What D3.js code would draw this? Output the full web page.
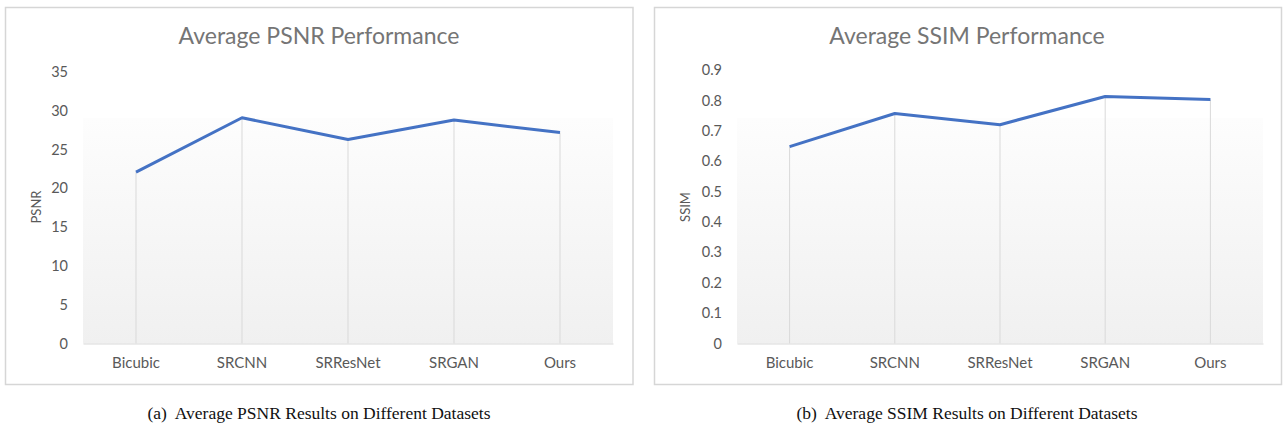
<!DOCTYPE html>
<html><head><meta charset="utf-8">
<script src="https://cdn.jsdelivr.net/npm/d3@7"></script>
<style>
html,body{margin:0;padding:0;background:#fff;}
svg{display:block;}
</style></head>
<body>
<svg id="c" width="1284" height="428"></svg>
<script>
const categories = ["Bicubic","SRCNN","SRResNet","SRGAN","Ours"];
const psnrValues = [22.1, 29.1, 26.3, 28.8, 27.2];
const ssimValues = [0.648, 0.757, 0.720, 0.813, 0.803];
const psnrTicks = [0,5,10,15,20,25,30,35];
const ssimTicks = [0,0.1,0.2,0.3,0.4,0.5,0.6,0.7,0.8,0.9];

const svg = d3.select("#c");
const defs = svg.append("defs");
const grad = defs.append("linearGradient").attr("id","bg").attr("x1",0).attr("y1",0).attr("x2",0).attr("y2",1);
grad.append("stop").attr("offset","0%").attr("stop-color","#fdfdfd");
grad.append("stop").attr("offset","100%").attr("stop-color","#f0f0f0");

const font = "Lato, 'Open Sans', sans-serif";
const base = 343.5;

function panel(cfg){
  const g = svg.append("g");
  g.append("rect").attr("x",cfg.bx).attr("y",7.5).attr("width",cfg.bw).attr("height",377)
    .attr("fill","#fff").attr("stroke","#d6d6d6").attr("stroke-width",1.5);
  const x = d3.scaleBand().domain(categories).range([cfg.x0,cfg.x1]);
  const y = d3.scaleLinear().domain([0,cfg.max]).range([base,cfg.top]);
  // gradient area
  g.append("rect").attr("x",cfg.x0).attr("y",118).attr("width",cfg.x1-cfg.x0).attr("height",base-118)
    .attr("fill","url(#bg)");
  // vertical grid from point down to baseline
  g.selectAll("line.vgl").data(categories).join("line").attr("class","vgl")
    .attr("x1",d=>x(d)+x.bandwidth()/2).attr("x2",d=>x(d)+x.bandwidth()/2)
    .attr("y1",(d,i)=>y(cfg.vals[i])).attr("y2",base)
    .attr("stroke","#d9d9d9").attr("stroke-width",1);
  // x axis
  const xa = g.append("g").attr("transform",`translate(0,${base})`).call(d3.axisBottom(x).tickSize(0).tickPadding(14));
  xa.select(".domain").attr("stroke","#d9d9d9").attr("stroke-width",1.2);
  xa.selectAll("text").attr("font-family",font).attr("font-size",15).attr("fill","#595959");
  // y axis
  const ya = g.append("g").attr("transform",`translate(${cfg.x0},0)`)
    .call(d3.axisLeft(y).tickValues(cfg.ticks).tickSize(0).tickPadding(cfg.tp).tickFormat(cfg.fmt));
  ya.select(".domain").remove();
  ya.selectAll("text").attr("font-family",font).attr("font-size",14.5).attr("fill","#595959");
  // y title
  g.append("text").attr("transform",`translate(${cfg.yt},207) rotate(-90)`).attr("text-anchor","middle")
    .attr("font-family",font).attr("font-size",13).attr("fill","#595959").text(cfg.ytitle);
  // title
  g.append("text").attr("x",cfg.tx).attr("y",44).attr("text-anchor","middle")
    .attr("font-family",font).attr("font-size",23).attr("fill","#757575").text(cfg.title);
  // line
  const line = d3.line().x((d,i)=>x(categories[i])+x.bandwidth()/2).y(d=>y(d));
  g.append("path").datum(cfg.vals).attr("d",line).attr("fill","none")
    .attr("stroke","#4472c4").attr("stroke-width",3).attr("stroke-linejoin","round");
  // caption
  g.append("text").attr("x",cfg.cx).attr("y",419).attr("text-anchor","middle")
    .attr("font-family","'Liberation Serif', serif").attr("font-size",17.5).attr("fill","#111")
    .attr("xml:space","preserve").text(cfg.caption);
}

panel({bx:5.5,bw:627.5,x0:83,x1:613,top:72,max:35,vals:psnrValues,ticks:psnrTicks,fmt:d3.format("d"),tp:15,yt:41,ytitle:"PSNR",
  title:"Average PSNR Performance",tx:319,cx:319,caption:"(a)  Average PSNR Results on Different Datasets"});
panel({bx:654.5,bw:627,x0:737,x1:1263,top:70,max:0.9,vals:ssimValues,ticks:ssimTicks,fmt:d=>d===0?"0":d3.format(".1f")(d),tp:15,yt:690,ytitle:"SSIM",
  title:"Average SSIM Performance",tx:967,cx:967,caption:"(b)  Average SSIM Results on Different Datasets"});
</script>
</body></html>
